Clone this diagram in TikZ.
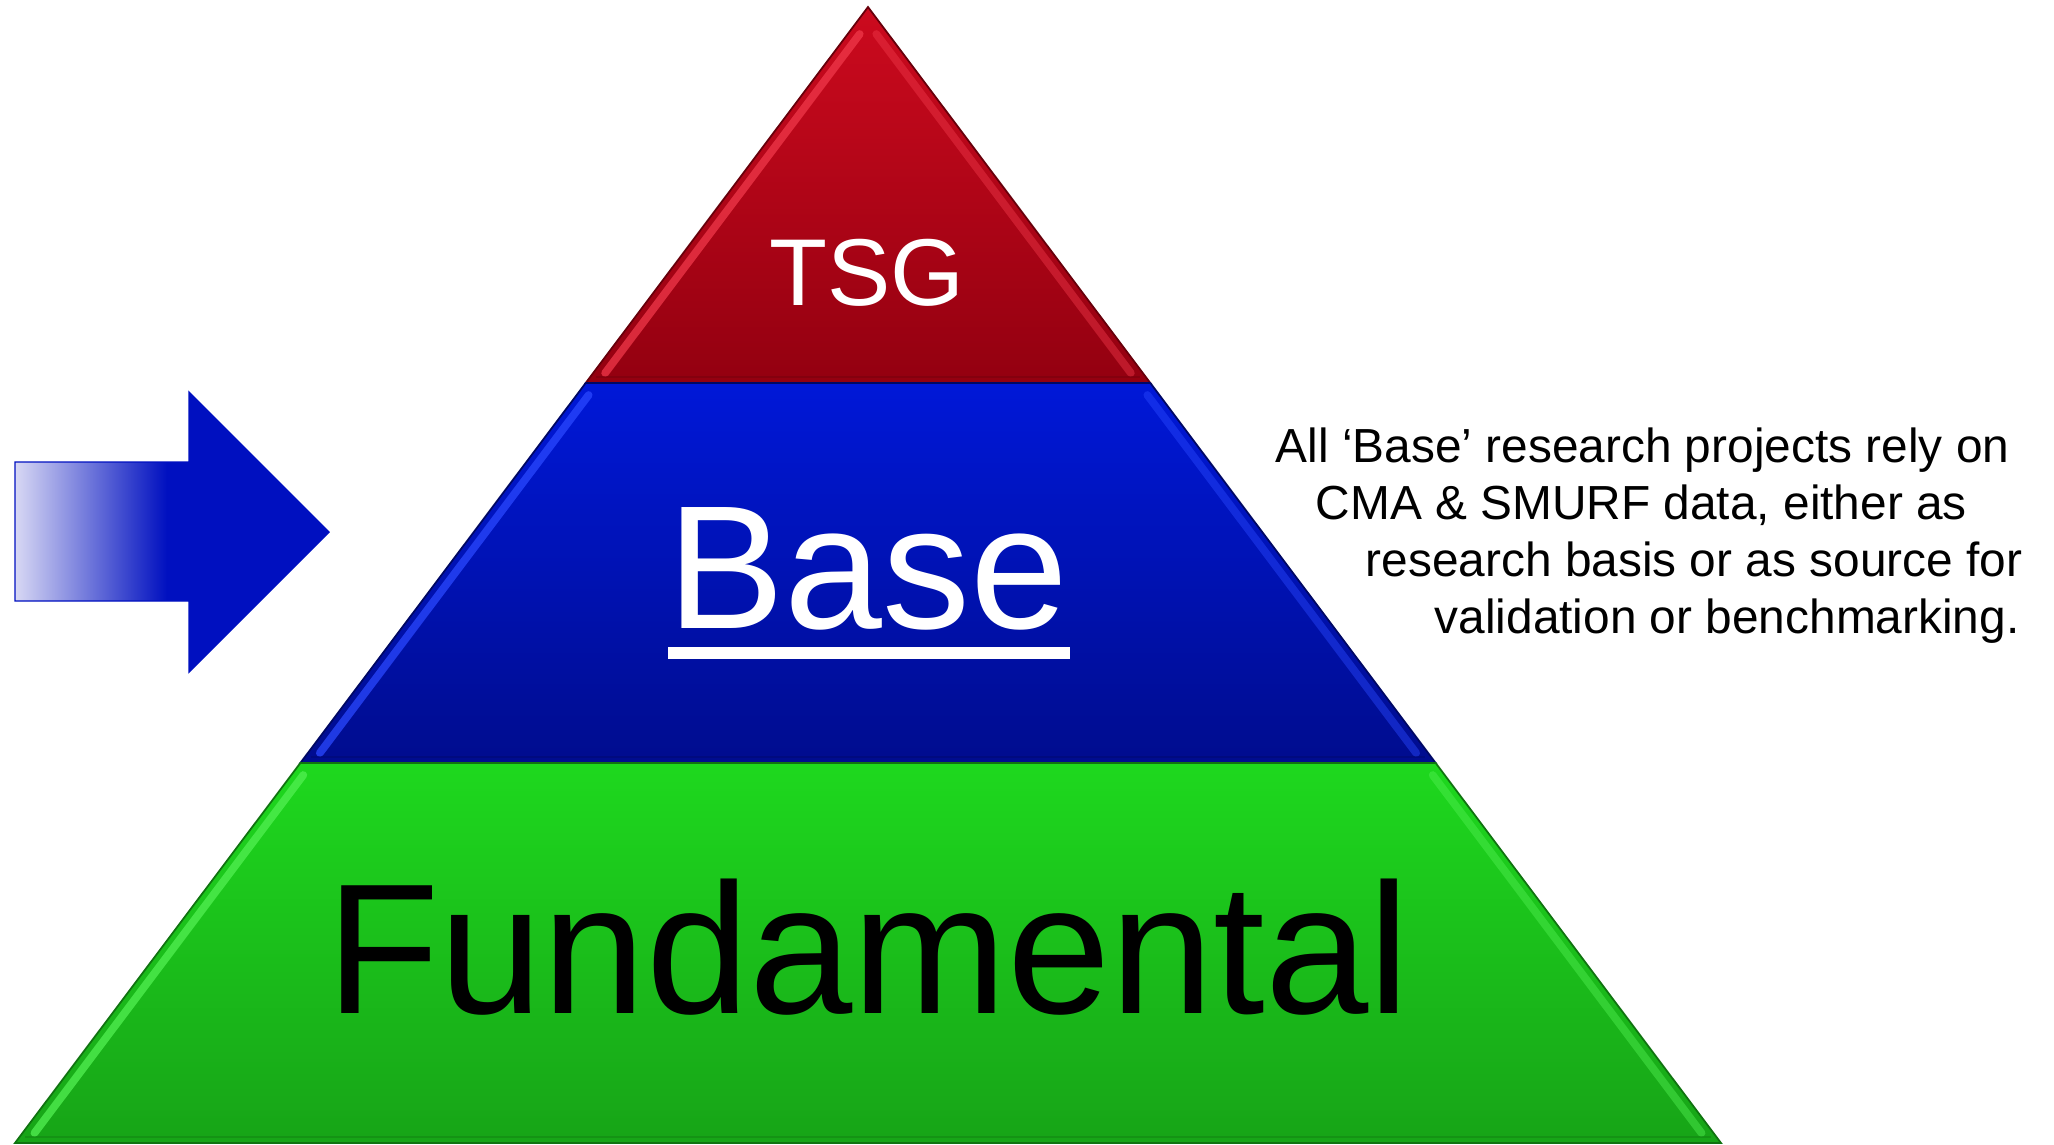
\documentclass[tikz,border=0pt]{standalone}
\usepackage{fontspec}
\setmainfont{Liberation Sans}
\usetikzlibrary{calc}
%% colours of the bands and the arrow
\definecolor{tsgtop}{HTML}{CC0A1E}
\definecolor{tsgbot}{HTML}{930010}
\definecolor{tsglite}{HTML}{F0384A}
\definecolor{basetop}{HTML}{0018D8}
\definecolor{basebot}{HTML}{000C8E}
\definecolor{baselite}{HTML}{2A48FF}
\definecolor{fundtop}{HTML}{1ED81E}
\definecolor{fundbot}{HTML}{17A417}
\definecolor{fundlite}{HTML}{52F052}
\definecolor{arrowblue}{HTML}{0010C0}
\definecolor{fadelight}{HTML}{D8D8F4}
\pgfdeclarehorizontalshading{arrowfade}{100bp}{color(0bp)=(fadelight); color(25bp)=(fadelight); color(49.2bp)=(arrowblue); color(100bp)=(arrowblue)}
\tikzset{
  bigword/.style={inner sep=0pt, anchor=base},
  notetext/.style={inner sep=0pt, anchor=base west, font=\fontsize{13.6}{16}\selectfont},
}
\begin{document}
\begin{tikzpicture}[x=0.01cm,y=-0.01cm]
        \def\tx{868}
        \def\ty{7}
        \def\slope{0.7509}
        \useasboundingbox (0,0) rectangle (2054,1144);
        %% pyramid bands
        \foreach \ya/\yb/\band/\yi in {7/383/tsg/34,383/763/base/395,763/1143/fund/775}{
            \shade[top color=\band top,bottom color=\band bot,draw=\band bot!70!black,line width=0.5pt]
                ({\tx-\slope*(\ya-\ty)},\ya) -- ({\tx+\slope*(\ya-\ty)},\ya)
                -- ({\tx+\slope*(\yb-\ty)},\yb) -- ({\tx-\slope*(\yb-\ty)},\yb) -- cycle;
            %% bevel on the slanted sides
            \draw[\band lite,line width=2.2pt,opacity=0.75,line cap=round]
                ({\tx-\slope*(\yi-\ty)+12},\yi) -- ({\tx-\slope*(\yb-10-\ty)+12},\yb-10);
            \draw[\band lite,line width=2.2pt,opacity=0.45,line cap=round]
                ({\tx+\slope*(\yi-\ty)-12},\yi) -- ({\tx+\slope*(\yb-10-\ty)-12},\yb-10);
            \draw[\band bot!80!black,line width=0.8pt,opacity=0.5]
                ({\tx-\slope*(\yb-6-\ty)+6},\yb-6) -- ({\tx+\slope*(\yb-6-\ty)-6},\yb-6);
        }
        %% band labels
        \node[bigword,text=white,font=\fontsize{27}{27}\selectfont] (tsg) at (867,305) {TSG};
        \node[bigword,text=white,font=\fontsize{50}{50}\selectfont] (base) at (868,628) {Base};
        \fill[white] ($(base.base west)+(1,19)$) rectangle ($(base.base east)+(1,31)$);
        \node[bigword,text=black,font=\fontsize{52.8}{53}\selectfont] (fund) at (868,1013) {Fundamental};
        %% arrow
        \shade[shading=arrowfade,draw=arrowblue,line width=0.4pt]
            (15,462) -- (189,462) -- (189,392) -- (329,532) -- (189,672) -- (189,601) -- (15,601) -- cycle;
        %% note
        \foreach \nx/\ny/\nt [count=\i] in {1275/462/{All ‘Base’ research projects rely on},1315/519/{CMA \& SMURF data, either as},1365/576/{research basis or as source for},1434/633/{validation or benchmarking.}}
            \node[notetext] (note\i) at (\nx,\ny) {\nt};
\end{tikzpicture}
\end{document}
